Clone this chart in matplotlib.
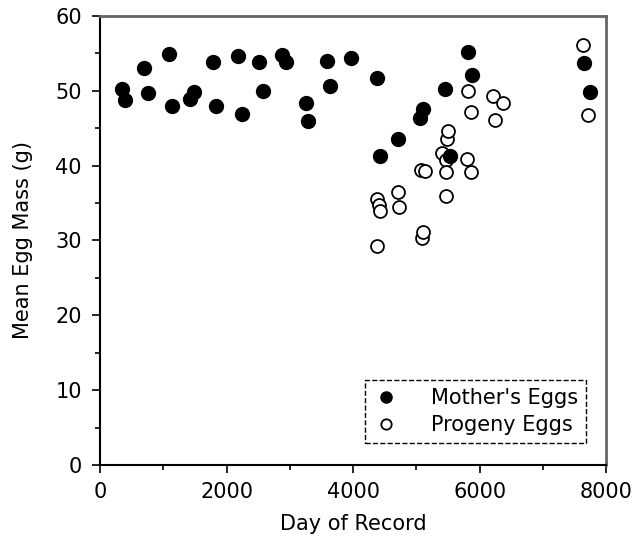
import matplotlib.pyplot as plt
import numpy as np

# mother's eggs (filled)
mother_day = [343, 395, 696, 754, 1091, 1134, 1423, 1486, 1791, 1829, 2177, 2240,
              2519, 2572, 2873, 2941, 3252, 3293, 3584, 3636, 3968, 4375, 4427,
              4716, 5059, 5111, 5455, 5534, 5823, 5886, 7652, 7747]
mother_mass = [50.2, 48.8, 53.1, 49.7, 54.9, 48.0, 48.9, 49.8, 53.9, 48.0, 54.7, 46.9,
               53.8, 50.0, 54.8, 53.8, 48.4, 45.9, 54.0, 50.7, 54.4, 51.7, 41.3,
               43.5, 46.3, 47.6, 50.3, 41.3, 55.2, 52.1, 53.7, 49.9]

# progeny eggs (open)
progeny_day = [4384, 4384, 4411, 4427, 4716, 4732, 5085, 5100, 5080, 5130, 5402,
               5470, 5470, 5470, 5481, 5497, 5807, 5860, 5823, 5866, 6209, 6367,
               6245, 7641, 7709]
progeny_mass = [29.3, 35.6, 34.8, 33.9, 36.5, 34.5, 30.3, 31.1, 39.4, 39.3, 41.7,
                40.8, 39.1, 36.0, 43.6, 44.6, 40.9, 39.2, 50.0, 47.2, 49.3, 48.4,
                46.1, 56.1, 46.7]

fig = plt.figure(figsize=(6.38, 5.41), dpi=100)
ax = fig.add_axes([0.1567, 0.1405, 0.7933, 0.83])

ax.plot(progeny_day, progeny_mass, 'o', markersize=9.3, markerfacecolor='white',
        markeredgecolor='black', markeredgewidth=1.3, linestyle='none', label='Progeny Eggs')
ax.plot(mother_day, mother_mass, 'o', markersize=10, color='black',
        linestyle='none', label="Mother's Eggs")

ax.set_xlim(0, 8000)
ax.set_ylim(0, 60)
ax.set_xticks(np.arange(0, 8001, 2000))
ax.set_xticks(np.arange(0, 8001, 1000), minor=True)
ax.set_yticks(np.arange(0, 61, 10))
ax.set_yticks(np.arange(0, 61, 5), minor=True)
ax.tick_params(which='major', direction='out', length=6, width=1.2, labelsize=15)
ax.tick_params(which='minor', direction='out', length=3.5, width=1.2)
ax.tick_params(axis='x', which='major', pad=6)
ax.tick_params(axis='y', which='major', pad=7)
ax.tick_params(top=False, right=False)

for s in ['left', 'bottom']:
    ax.spines[s].set_linewidth(1.5)
    ax.spines[s].set_color('black')
for s in ['top', 'right']:
    ax.spines[s].set_linewidth(2)
    ax.spines[s].set_color('#666666')

ax.set_xlabel('Day of Record', fontsize=15, labelpad=9)
ax.set_ylabel('Mean Egg Mass (g)', fontsize=15, labelpad=16)

h, l = ax.get_legend_handles_labels()
leg = ax.legend(h[::-1], l[::-1], loc='lower right', bbox_to_anchor=(0.96, 0.049),
                borderaxespad=0, fontsize=15, markerscale=0.8, fancybox=False,
                framealpha=1, edgecolor='black', handletextpad=1.5,
                labelspacing=0.34, borderpad=0.38, handlelength=1.3)
leg.get_frame().set_linestyle('--')
leg.get_frame().set_linewidth(1)

fig.savefig('out.png', dpi=100)
